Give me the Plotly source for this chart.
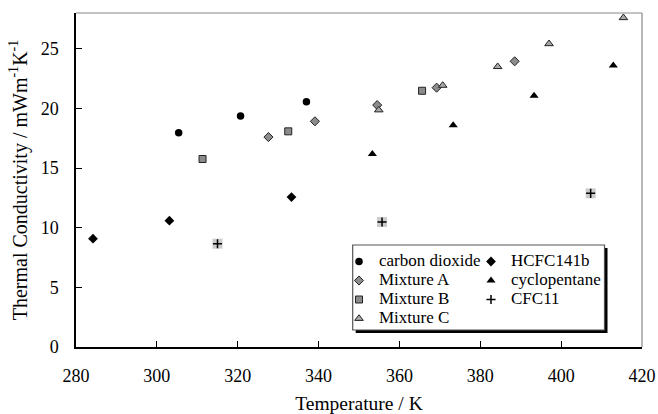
import plotly.graph_objects as go

# ---- data (Temperature / K, Thermal conductivity / mW m^-1 K^-1) ----
co2_T = [305.4, 320.7, 337.0]
co2_k = [17.96, 19.36, 20.56]

mixA_T = [327.6, 339.1, 354.5, 369.2, 388.5]
mixA_k = [17.60, 18.92, 20.28, 21.74, 23.95]

mixB_T = [311.3, 332.5, 365.6]
mixB_k = [15.76, 18.08, 21.48]

mixC_T = [354.9, 370.7, 384.3, 397.0, 415.4]
mixC_k = [19.87, 21.93, 23.50, 25.42, 27.60]

hcfc_T = [284.2, 303.1, 333.3]
hcfc_k = [9.08, 10.59, 12.57]

cyclo_T = [353.3, 373.3, 393.3, 412.9]
cyclo_k = [16.18, 18.60, 21.07, 23.60]

cfc_T = [315.0, 355.7, 407.3]
cfc_k = [8.66, 10.48, 12.88]

x_ticks = [280, 300, 320, 340, 360, 380, 400, 420]
y_ticks = [0, 5, 10, 15, 20, 25]

FONT = "Liberation Serif"
edge = dict(color="#222222", width=1)


def lg(name):
    # legend label drawn at 17px while keeping compact legend row spacing
    return '<span style="font-size:17px">%s</span>' % name


fig = go.Figure()

# column 1 of the legend
fig.add_trace(go.Scatter(x=co2_T, y=co2_k, mode="markers", name=lg("carbon dioxide"), legend="legend",
                         marker=dict(symbol="circle", size=7.5, color="black")))
fig.add_trace(go.Scatter(x=mixA_T, y=mixA_k, mode="markers", name=lg("Mixture A"), legend="legend",
                         marker=dict(symbol="diamond", size=7, color="#8c8c8c", line=edge)))
fig.add_trace(go.Scatter(x=mixB_T, y=mixB_k, mode="markers", name=lg("Mixture B"), legend="legend",
                         marker=dict(symbol="square", size=7, color="#8c8c8c", line=edge)))
fig.add_trace(go.Scatter(x=mixC_T, y=mixC_k, mode="markers", name=lg("Mixture C"), legend="legend",
                         marker=dict(symbol="triangle-up", size=7.5, color="#a8a8a8", line=edge)))
# column 2 of the legend
fig.add_trace(go.Scatter(x=hcfc_T, y=hcfc_k, mode="markers", name=lg("HCFC141b"), legend="legend2",
                         marker=dict(symbol="diamond", size=7.5, color="black")))
fig.add_trace(go.Scatter(x=cyclo_T, y=cyclo_k, mode="markers", name=lg("cyclopentane"), legend="legend2",
                         marker=dict(symbol="triangle-up", size=8, color="black")))
# CFC11: light grey square behind a black cross
fig.add_trace(go.Scatter(x=cfc_T, y=cfc_k, mode="markers", name=lg("CFC11"), showlegend=False,
                         legend="legend2", legendgroup="cfc",
                         marker=dict(symbol="square", size=10, color="#cccccc")))
fig.add_trace(go.Scatter(x=cfc_T, y=cfc_k, mode="markers", name=lg("CFC11"), legend="legend2",
                         legendgroup="cfc",
                         marker=dict(symbol="cross-thin", size=6.5, color="black",
                                     line=dict(color="black", width=1.5))))

axis_common = dict(showgrid=False, zeroline=False, showline=True, linecolor="black",
                   linewidth=1.5, ticks="inside", ticklen=6, tickwidth=1, tickcolor="black",
                   automargin=False,
                   tickfont=dict(family=FONT, size=18, color="black"))

fig.update_xaxes(range=[280, 420], tickvals=x_ticks, ticktext=[str(v) for v in x_ticks],
                 ticklabelstandoff=12,
                 title=dict(text="Temperature / K", font=dict(family=FONT, size=19.5, color="black"),
                            standoff=11),
                 **axis_common)
fig.update_yaxes(range=[0, 28], tickvals=y_ticks, ticktext=[str(v) for v in y_ticks],
                 ticklabelstandoff=12,
                 title=dict(text="Thermal Conductivity / mWm<sup>-1</sup>K<sup>-1</sup>",
                            font=dict(family=FONT, size=20, color="black"), standoff=8),
                 **axis_common)

# grey top and right frame lines
fig.add_shape(type="line", xref="paper", yref="paper", x0=0, x1=1, y0=1, y1=1,
              line=dict(color="#888888", width=1.2))
fig.add_shape(type="line", xref="paper", yref="paper", x0=1, x1=1, y0=0, y1=1,
              line=dict(color="#888888", width=1.2))

# legend frame with drop shadow (pixel geometry converted to paper fractions)
L, R, T, B = 76, 642, 13, 347
PX_W, PX_H = float(R - L), float(B - T)
box_l, box_r, box_t, box_b = 352.7 - L, 604.5 - L, B - 245, B - 330
fig.add_shape(type="rect", xref="paper", yref="paper", layer="above",
              x0=(box_l + 3) / PX_W, x1=(box_r + 3) / PX_W,
              y0=(box_b - 3) / PX_H, y1=(box_t - 3) / PX_H,
              fillcolor="black", line=dict(width=0))
fig.add_shape(type="rect", xref="paper", yref="paper", layer="above",
              x0=box_l / PX_W, x1=box_r / PX_W, y0=box_b / PX_H, y1=box_t / PX_H,
              fillcolor="white", line=dict(color="#555555", width=1.2))

leg_common = dict(orientation="v", yanchor="top", xanchor="left", itemwidth=30,
                  bgcolor="rgba(0,0,0,0)", borderwidth=0, tracegroupgap=0,
                  font=dict(family=FONT, size=12, color="black"))
fig.update_layout(
    template="none",
    width=658, height=414,
    margin=dict(l=L, r=658 - R, t=T, b=414 - B, pad=0),
    paper_bgcolor="white", plot_bgcolor="white",
    font=dict(family=FONT, color="black"),
    legend=dict(x=(339 - L) / PX_W, y=(B - 247) / PX_H, **leg_common),
    legend2=dict(x=(471 - L) / PX_W, y=(B - 247) / PX_H, **leg_common),
)

fig.write_html("out.html")
